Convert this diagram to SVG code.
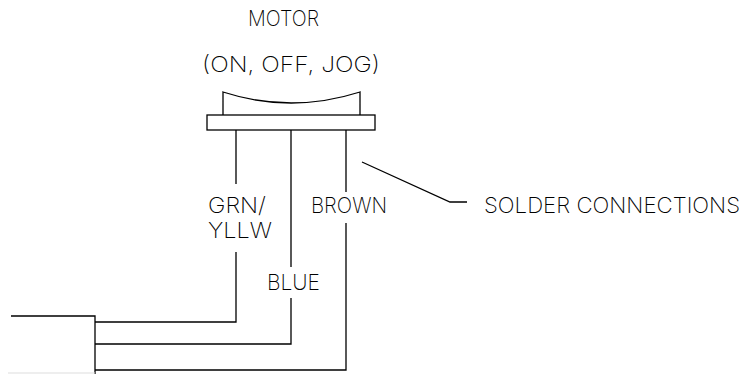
<svg xmlns="http://www.w3.org/2000/svg" width="745" height="374" viewBox="0 0 745 374">
<style>
.l{fill:none;stroke:#000;stroke-width:1.3}
.t{font-family:Inter,"Noto Sans","Liberation Sans",sans-serif;font-weight:200;font-size:22px;fill:#000}
</style>
<rect width="745" height="374" fill="#fff"/>
<g id="title">
<text class="t" x="248" y="26" textLength="71" lengthAdjust="spacingAndGlyphs">MOTOR</text>
<text class="t" x="202" y="72" textLength="178" lengthAdjust="spacingAndGlyphs">(ON, OFF, JOG)</text>
</g>
<g id="switch">
<path class="l" d="M223,115 V92 Q291,114 360,92 V115"/>
<rect class="l" x="207" y="115" width="168" height="15"/>
</g>
<g id="cable">
<path class="l" d="M11,316 H95 V374"/>
<path d="M8,373 H95" stroke="#ddd" stroke-width="1"/>
</g>
<g id="connectors">
<path class="l" d="M236,130 V184 M236,252 V322 H95"/>
<path class="l" d="M291,130 V267 M291,298 V344 H95"/>
<path class="l" d="M346,130 V192 M346,223 V370 H95"/>
<path class="l" d="M362,162 L450,202 H467"/>
</g>
<g id="labels">
<text class="t" x="208" y="213" textLength="58" lengthAdjust="spacingAndGlyphs">GRN/</text>
<text class="t" x="208" y="238" textLength="64" lengthAdjust="spacingAndGlyphs">YLLW</text>
<text class="t" x="267" y="290" textLength="53" lengthAdjust="spacingAndGlyphs">BLUE</text>
<text class="t" x="311" y="213" textLength="76" lengthAdjust="spacingAndGlyphs">BROWN</text>
<text class="t" x="484" y="213" textLength="256" lengthAdjust="spacingAndGlyphs">SOLDER CONNECTIONS</text>
</g>
</svg>
